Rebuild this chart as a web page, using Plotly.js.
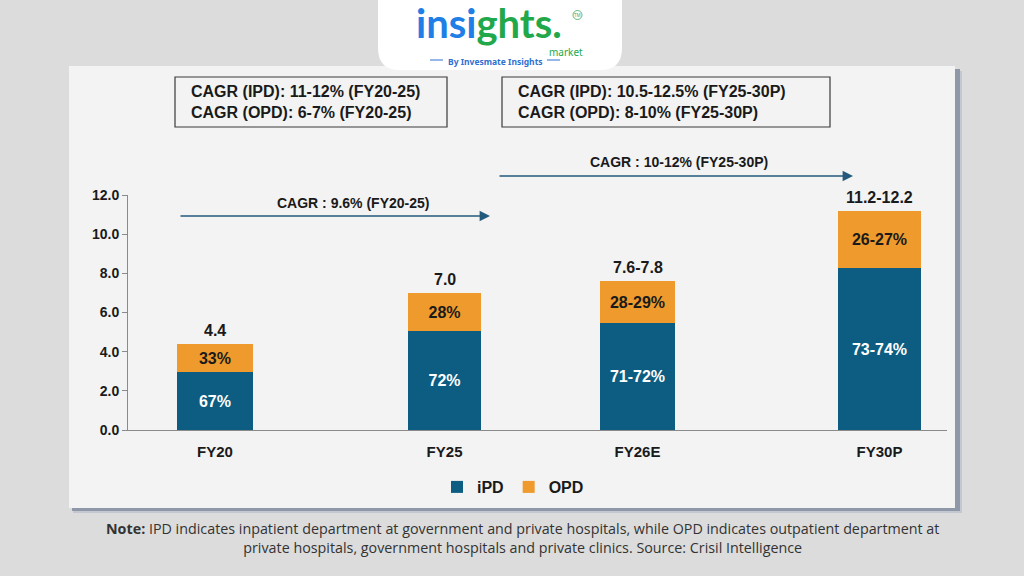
<!DOCTYPE html>
<html>
<head>
<meta charset="utf-8">
<script src="https://cdn.plot.ly/plotly-3.0.1.min.js"></script>
<style>
  html, body { margin: 0; padding: 0; background: #dcdcdc; }
  #chart { width: 1024px; height: 576px; }
</style>
</head>
<body>
<div id="chart"></div>
<script>
// Market size (INR lakh crore) split by inpatient / outpatient care
const categories = ['FY20', 'FY25', 'FY26E', 'FY30P'];
const ipdValues = [2.95, 5.05, 5.45, 8.25];
const opdValues = [1.45, 1.95, 2.15, 2.95];
const ipdLabels = ['67%', '72%', '71-72%', '73-74%'];
const opdLabels = ['33%', '28%', '28-29%', '26-27%'];
const totalLabels = ['4.4', '7.0', '7.6-7.8', '11.2-12.2'];
const yTickValues = [0, 2, 4, 6, 8, 10, 12];

const cagrBoxLeft = ['CAGR (IPD): 11-12% (FY20-25)', 'CAGR (OPD): 6-7% (FY20-25)'];
const cagrBoxRight = ['CAGR (IPD): 10.5-12.5% (FY25-30P)', 'CAGR (OPD): 8-10% (FY25-30P)'];
const cagrArrowLeft = 'CAGR : 9.6% (FY20-25)';
const cagrArrowRight = 'CAGR : 10-12% (FY25-30P)';
const noteText = '<b>Note:</b> IPD indicates inpatient department at government and private hospitals, while OPD indicates outpatient department at<br>private hospitals, government hospitals and private clinics. Source: Crisil Intelligence';

// ---- layout geometry (page pixels) ----
const W = 1024, H = 576;
const L = 128, R = 947, T = 195, B = 430;
const px = x => (x - L) / (R - L);
const py = y => (B - y) / (B - T);

// bar slots along the x axis (axis units 0..10) and their widths
const slotPos = [1.062, 3.865, 6.221, 9.176];
const slotWidth = [0.93, 0.89, 0.92, 1.01];

const FONT = 'Arial, "Liberation Sans", sans-serif';
const IPD_COLOR = '#0d5d82';
const OPD_COLOR = '#ef9a2c';

const totals = ipdValues.map((v, i) => +(v + opdValues[i]).toFixed(2));

const traces = [
  {
    type: 'bar', name: 'iPD', x: slotPos, y: ipdValues, width: slotWidth,
    marker: { color: IPD_COLOR },
    text: ipdLabels, textposition: 'inside', insidetextanchor: 'middle',
    textangle: 0,
    insidetextfont: { family: FONT, size: 16, color: '#ffffff', weight: 'bold' },
    hoverinfo: 'skip'
  },
  {
    type: 'bar', name: 'OPD', x: slotPos, y: opdValues, width: slotWidth,
    marker: { color: OPD_COLOR },
    text: opdLabels, textposition: 'inside', insidetextanchor: 'middle',
    textangle: 0,
    insidetextfont: { family: FONT, size: 16, color: '#1a1a1a', weight: 'bold' },
    hoverinfo: 'skip'
  }
];

function roundedRectPath(x0, y0, x1, y1, r) {
  // pixel rectangle -> paper-space path with rounded bottom corners
  const X = v => px(v), Y = v => py(v);
  const rx = r / (R - L), ry = r / (B - T);
  return `M ${X(x0)} ${Y(y0)} L ${X(x1)} ${Y(y0)} L ${X(x1)} ${Y(y1) + ry} ` +
         `Q ${X(x1)} ${Y(y1)} ${X(x1) - rx} ${Y(y1)} L ${X(x0) + rx} ${Y(y1)} ` +
         `Q ${X(x0)} ${Y(y1)} ${X(x0)} ${Y(y1) + ry} Z`;
}

const rectPx = (x0, y0, x1, y1, fill, line, lw) => ({
  type: 'rect', xref: 'paper', yref: 'paper', layer: 'below',
  x0: px(x0), x1: px(x1), y0: py(y1), y1: py(y0),
  fillcolor: fill, line: { color: line || fill, width: lw || 0 }
});

const shapes = [
  // card with a soft drop shadow
  rectPx(73, 71, 962, 513, '#c3c7cf'),
  rectPx(72, 69, 960, 511, '#8f98a9'),
  rectPx(69, 66, 955, 508, '#f3f3f3'),
  // logo tab
  { type: 'path', xref: 'paper', yref: 'paper', layer: 'below',
    path: roundedRectPath(378, -5, 622, 70, 22), fillcolor: '#ffffff', line: { width: 0 } },
  // CAGR boxes
  rectPx(175, 77, 447, 127, 'rgba(0,0,0,0)', '#3a3a3a', 1.2),
  rectPx(502, 77, 830, 127, 'rgba(0,0,0,0)', '#3a3a3a', 1.2),
  // dashes around the logo strapline
  { type: 'line', xref: 'paper', yref: 'paper', x0: px(430), x1: px(443), y0: py(60), y1: py(60),
    line: { color: '#2f6fd1', width: 1 } },
  { type: 'line', xref: 'paper', yref: 'paper', x0: px(547), x1: px(560), y0: py(60), y1: py(60),
    line: { color: '#2f6fd1', width: 1 } },
  // TM mark ring
  { type: 'circle', xref: 'paper', yref: 'paper', x0: px(573), x1: px(582), y0: py(19.5), y1: py(10.5),
    line: { color: '#3aa55a', width: 0.8 } }
];

const annotations = [];
const textAt = (x, y, text, font, extra) => Object.assign({
  x: px(x), y: py(y), xref: 'paper', yref: 'paper', xanchor: 'center', yanchor: 'middle',
  showarrow: false, text: text, font: font
}, extra || {});

// value labels above each stack
categories.forEach((c, i) => {
  annotations.push({
    x: slotPos[i], y: totals[i], xref: 'x', yref: 'y', xanchor: 'center',
    text: totalLabels[i], showarrow: false, yanchor: 'bottom', yshift: 3,
    font: { family: FONT, size: 16, color: '#1a1a1a', weight: 'bold' }
  });
});

// CAGR summary boxes
const boxFont = { family: FONT, size: 16, color: '#1a1a1a', weight: 'bold' };
annotations.push(textAt(189, 102, cagrBoxLeft.join('<br>'), boxFont, { xanchor: 'left', align: 'left' }));
annotations.push(textAt(516, 102, cagrBoxRight.join('<br>'), boxFont, { xanchor: 'left', align: 'left' }));

// growth arrows
const arrowStyle = { showarrow: true, arrowhead: 2, arrowsize: 1.3, arrowwidth: 1.6,
  arrowcolor: '#23597d', axref: 'pixel', ayref: 'pixel', text: '' };
annotations.push(Object.assign({ x: px(490), y: py(216), xref: 'paper', yref: 'paper', ax: -311, ay: 0 }, arrowStyle));
annotations.push(Object.assign({ x: px(853), y: py(176), xref: 'paper', yref: 'paper', ax: -355, ay: 0 }, arrowStyle));
const arrowFont = { family: FONT, size: 14, color: '#1a1a1a', weight: 'bold' };
annotations.push(textAt(353, 203, cagrArrowLeft, arrowFont));
annotations.push(textAt(679, 162, cagrArrowRight, arrowFont));

// logo
annotations.push(textAt(489, 23,
  '<span style="color:#1f7fe6">insi</span><span style="color:#21a84b">ghts.</span>',
  { family: 'Lato, "Noto Sans", sans-serif', size: 40, weight: 'bold' }));
annotations.push(textAt(566, 52, 'market',
  { family: '"Noto Sans", sans-serif', size: 10, color: '#21a84b' }));
annotations.push(textAt(495, 61, '<b>By Invesmate Insights</b>',
  { family: '"Noto Sans", sans-serif', size: 8.5, color: '#2f6fd1' }));
annotations.push(textAt(577.5, 15, 'TM',
  { family: '"Noto Sans", sans-serif', size: 4.5, color: '#3aa55a' }));

// footnote
annotations.push(textAt(522, 538, noteText,
  { family: '"Open Sans", "Noto Sans", sans-serif', size: 14.3, color: '#333333' }, { align: 'center' }));

const layout = {
  width: W, height: H,
  margin: { l: L, r: W - R, t: T, b: H - B, pad: 0 },
  paper_bgcolor: '#dcdcdc',
  plot_bgcolor: 'rgba(0,0,0,0)',
  barmode: 'stack',
  showlegend: true,
  legend: {
    orientation: 'h', x: px(513), xanchor: 'center', y: py(487), yanchor: 'middle',
    font: { family: FONT, size: 16, color: '#1a1a1a', weight: 'bold' },
    bgcolor: 'rgba(0,0,0,0)', traceorder: 'normal', itemwidth: 30
  },
  xaxis: {
    range: [0, 10], fixedrange: true,
    tickmode: 'array', tickvals: slotPos, ticktext: categories,
    showgrid: false, zeroline: false,
    showline: true, linecolor: '#8a8a8a', linewidth: 1,
    ticks: '', ticklabelstandoff: 8,
    tickfont: { family: FONT, size: 15, color: '#1a1a1a', weight: 'bold' }
  },
  yaxis: {
    range: [0, 12], fixedrange: true,
    tickmode: 'array', tickvals: yTickValues, tickformat: '.1f',
    showgrid: false, zeroline: false,
    showline: true, linecolor: '#8a8a8a', linewidth: 1,
    ticks: 'outside', ticklen: 5, tickcolor: '#8a8a8a',
    tickfont: { family: FONT, size: 14, color: '#1a1a1a', weight: 'bold' }
  },
  shapes: shapes,
  annotations: annotations
};

Plotly.newPlot('chart', traces, layout, { staticPlot: true, displayModeBar: false });
</script>
</body>
</html>
